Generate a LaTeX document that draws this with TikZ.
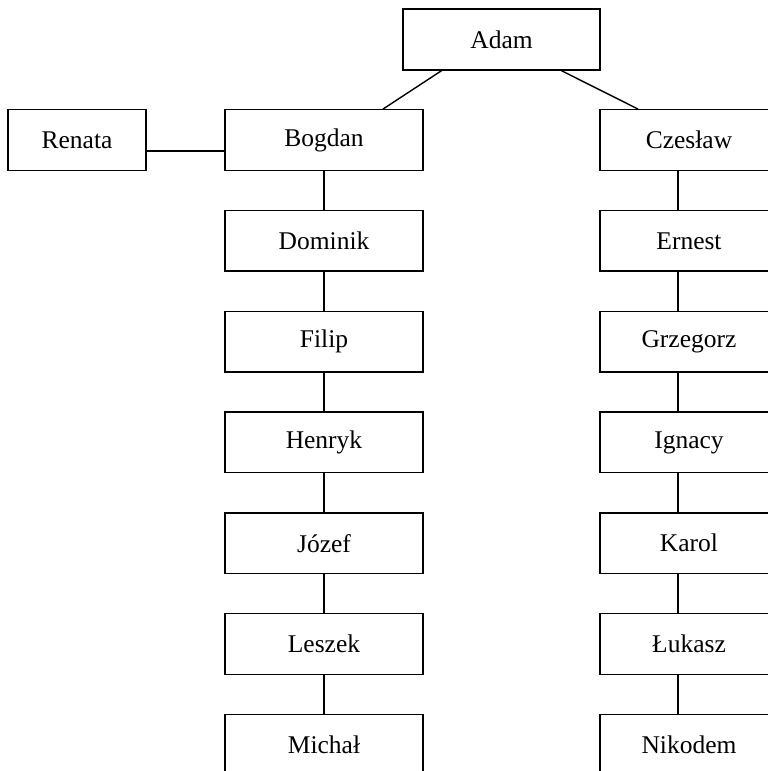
\documentclass[tikz,border=0pt]{standalone}
\usepackage{fontspec}
\setmainfont{Liberation Serif}
\usepackage{tikz}

\tikzset{
  person/.style={draw, line width=1.4pt, rectangle, inner sep=0pt,
    minimum width=198pt, minimum height=60.5pt,
    font=\fontsize{25.5}{30}\selectfont},
  link/.style={line width=1.4pt}
}

\begin{document}
\begin{tikzpicture}[x=1pt,y=-1pt]
  \useasboundingbox (0,0) rectangle (768,771);
  \clip (0,0) rectangle (768,771);

  \node[person, minimum width=197pt, minimum height=61pt] (adam) at (501.5,39.5) {Adam};
  \node[person, minimum width=138pt] (renata) at (77,140) {Renata};

  % left branch
  \node[person] (bogdan)  at (324,140)   {Bogdan};
  \node[person] (dominik) at (324,240.8) {Dominik};
  \node[person] (filip)   at (324,341.6) {Filip};
  \node[person] (henryk)  at (324,442.4) {Henryk};
  \node[person] (jozef)   at (324,543.2) {Józef};
  \node[person] (leszek)  at (324,644)   {Leszek};
  \node[person] (michal)  at (324,744.8) {Michał};

  % right branch
  \node[person, minimum width=178pt] (czeslaw)  at (689,140)   {Czesław};
  \node[person, minimum width=178pt] (ernest)   at (689,240.8) {Ernest};
  \node[person, minimum width=178pt] (grzegorz) at (689,341.6) {Grzegorz};
  \node[person, minimum width=178pt] (ignacy)   at (689,442.4) {Ignacy};
  \node[person, minimum width=178pt] (karol)    at (689,543.2) {Karol};
  \node[person, minimum width=178pt] (lukasz)   at (689,644)   {Łukasz};
  \node[person, minimum width=178pt] (nikodem)  at (689,744.8) {Nikodem};

  \draw[link] ([xshift=-60pt]adam.south) -- ([xshift=59pt]bogdan.north);
  \draw[link] ([xshift=60pt]adam.south) -- ([xshift=-51pt]czeslaw.north);
  \draw[link] ([yshift=-11pt]renata.east) -- ([yshift=-11pt]bogdan.west);

  \draw[link] (bogdan) -- (dominik);
  \draw[link] (dominik) -- (filip);
  \draw[link] (filip) -- (henryk);
  \draw[link] (henryk) -- (jozef);
  \draw[link] (jozef) -- (leszek);
  \draw[link] (leszek) -- (michal);

  \draw[link] ([xshift=-11pt]czeslaw.south) -- ([xshift=-11pt]ernest.north);
  \draw[link] ([xshift=-11pt]ernest.south) -- ([xshift=-11pt]grzegorz.north);
  \draw[link] ([xshift=-11pt]grzegorz.south) -- ([xshift=-11pt]ignacy.north);
  \draw[link] ([xshift=-11pt]ignacy.south) -- ([xshift=-11pt]karol.north);
  \draw[link] ([xshift=-11pt]karol.south) -- ([xshift=-11pt]lukasz.north);
  \draw[link] ([xshift=-11pt]lukasz.south) -- ([xshift=-11pt]nikodem.north);
\end{tikzpicture}
\end{document}
